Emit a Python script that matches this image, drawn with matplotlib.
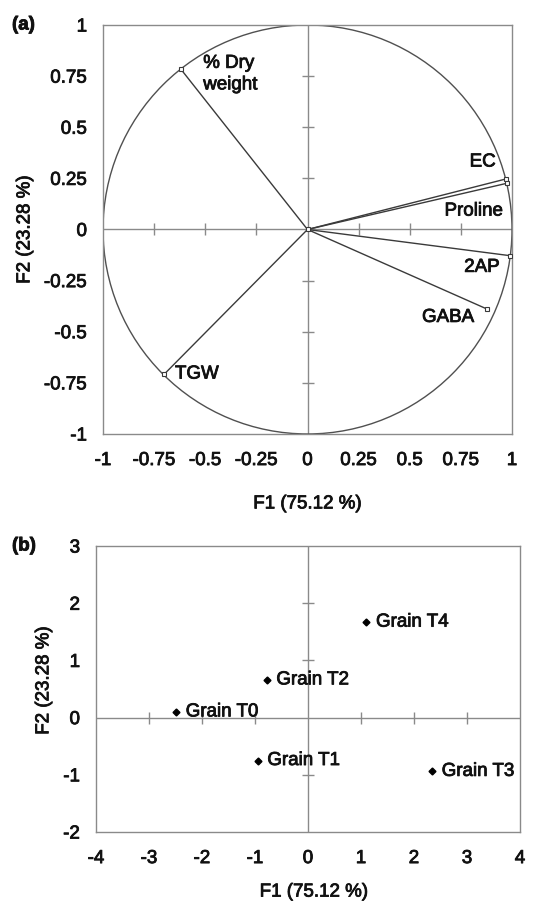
import numpy as np
import matplotlib
matplotlib.use("Agg")
import matplotlib.pyplot as plt
import matplotlib.patheffects as pe
from matplotlib.patches import Circle
from matplotlib.text import Text

plt.rcParams['font.family'] = ['Liberation Sans', 'DejaVu Sans']
plt.rcParams['font.size'] = 13.5
plt.rcParams['axes.unicode_minus'] = False

# === DATA ===
# (a) correlation circle: variable loadings on F1 / F2
var_names = ["% Dry\nweight", "EC", "Proline", "2AP", "GABA", "TGW"]
var_f1 = [-0.62, 0.97, 0.975, 0.99, 0.88, -0.70]
var_f2 = [0.785, 0.247, 0.226, -0.128, -0.39, -0.707]

# (b) observations (grain treatments)
obs_names = ["Grain T0", "Grain T1", "Grain T2", "Grain T3", "Grain T4"]
obs_f1 = [-2.49, -0.95, -0.78, 2.34, 1.10]
obs_f2 = [0.10, -0.75, 0.66, -0.94, 1.67]

ticks_a = [-1, -0.75, -0.5, -0.25, 0, 0.25, 0.5, 0.75, 1]
tick_labels_a = ["-1", "-0.75", "-0.5", "-0.25", "0", "0.25", "0.5", "0.75", "1"]
ticks_bx = [-4, -3, -2, -1, 0, 1, 2, 3, 4]
ticks_by = [-2, -1, 0, 1, 2, 3]

xlabel = "F1 (75.12 %)"
ylabel = "F2 (23.28 %)"

GRID = "#8a8a8a"
INK = "#3a3a3a"
TXT = "#111111"


def style_axes(ax, xticks, yticks, xlabels=None, ylabels=None):
  for s in ax.spines.values():
    s.set_color(GRID)
    s.set_linewidth(1.0)
  ax.set_xticks(xticks)
  ax.set_yticks(yticks)
  if xlabels is not None:
    ax.set_xticklabels(xlabels)
  if ylabels is not None:
    ax.set_yticklabels(ylabels)
  ax.tick_params(axis='x', length=0, pad=13, colors=TXT)
  ax.tick_params(axis='y', length=0, pad=11.5, colors=TXT)
  # zero lines with crossing ticks
  ax.axhline(0, color=GRID, lw=1.0, zorder=1)
  ax.axvline(0, color=GRID, lw=1.0, zorder=1)
  inner_x = [t for t in xticks if t != 0 and t != xticks[0] and t != xticks[-1]]
  inner_y = [t for t in yticks if t != 0 and t != yticks[0] and t != yticks[-1]]
  ax.plot(inner_x, [0] * len(inner_x), ls='none', marker='|', ms=8,
          mew=1.0, color=GRID, zorder=1)
  ax.plot([0] * len(inner_y), inner_y, ls='none', marker='_', ms=8,
          mew=1.0, color=GRID, zorder=1)


fig = plt.figure(figsize=(5.43, 9.03), dpi=100)

# === PANEL (a) ===
ax1 = fig.add_axes([0.1897, 0.5183, 0.7532, 0.4529])
ax1.set_xlim(-1, 1)
ax1.set_ylim(-1, 1)
style_axes(ax1, ticks_a, ticks_a, tick_labels_a, tick_labels_a)
ax1.add_patch(Circle((0, 0), 1, fill=False, edgecolor="#505050", lw=1.0, zorder=2))

for x, y in zip(var_f1, var_f2):
  ax1.plot([0, x], [0, y], color=INK, lw=1.0, zorder=3)
ax1.plot(var_f1, var_f2, ls='none', marker='s', ms=3.5, mfc='white',
         mec=INK, mew=0.8, zorder=4)
ax1.plot([0], [0], ls='none', marker='s', ms=3.5, mfc='white', mec=INK, mew=0.8, zorder=4)

label_pos = {
  "% Dry\nweight": (-0.51, 0.76, 'left'),
  "EC": (0.92, 0.33, 'right'),
  "Proline": (0.955, 0.09, 'right'),
  "2AP": (0.94, -0.185, 'right'),
  "GABA": (0.815, -0.43, 'right'),
  "TGW": (-0.648, -0.707, 'left'),
}
for name in var_names:
  lx, ly, ha = label_pos[name]
  ax1.text(lx, ly, name, ha=ha, va='center', color=TXT, linespacing=1.35)

ax1.set_xlabel(xlabel, color=TXT)
ax1.xaxis.set_label_coords(0.5, -0.171)
ax1.xaxis.label.set_va('center')
ax1.set_ylabel(ylabel, color=TXT, va='center')
ax1.yaxis.set_label_coords(-0.191, 0.5)

fig.text(12 / 543, 1 - 26 / 903, "(a)", fontweight='bold', ha='left', va='center', color=TXT)

# === PANEL (b) ===
ax2 = fig.add_axes([0.1768, 0.0775, 0.7808, 0.3167])
ax2.set_xlim(-4, 4)
ax2.set_ylim(-2, 3)
style_axes(ax2, ticks_bx, ticks_by)

ax2.plot(obs_f1, obs_f2, ls='none', marker='D', ms=3.5, color='black', zorder=4)
for name, x, y in zip(obs_names, obs_f1, obs_f2):
  ax2.annotate(name, (x, y), xytext=(7, 0), textcoords='offset points',
               ha='left', va='center', color=TXT)

ax2.set_xlabel(xlabel, color=TXT)
ax2.xaxis.set_label_coords(0.514, -0.21)
ax2.xaxis.label.set_va('center')
ax2.set_ylabel(ylabel, color=TXT, va='center')
ax2.yaxis.set_label_coords(-0.123, 0.53)

fig.text(12 / 543, 1 - 547 / 903, "(b)", fontweight='bold', ha='left', va='center', color=TXT)

# slightly heavier text, like the scanned original
for t in fig.findobj(Text):
  t.set_path_effects([pe.withStroke(linewidth=0.6, foreground=TXT)])

fig.savefig("out.png", dpi=100)
